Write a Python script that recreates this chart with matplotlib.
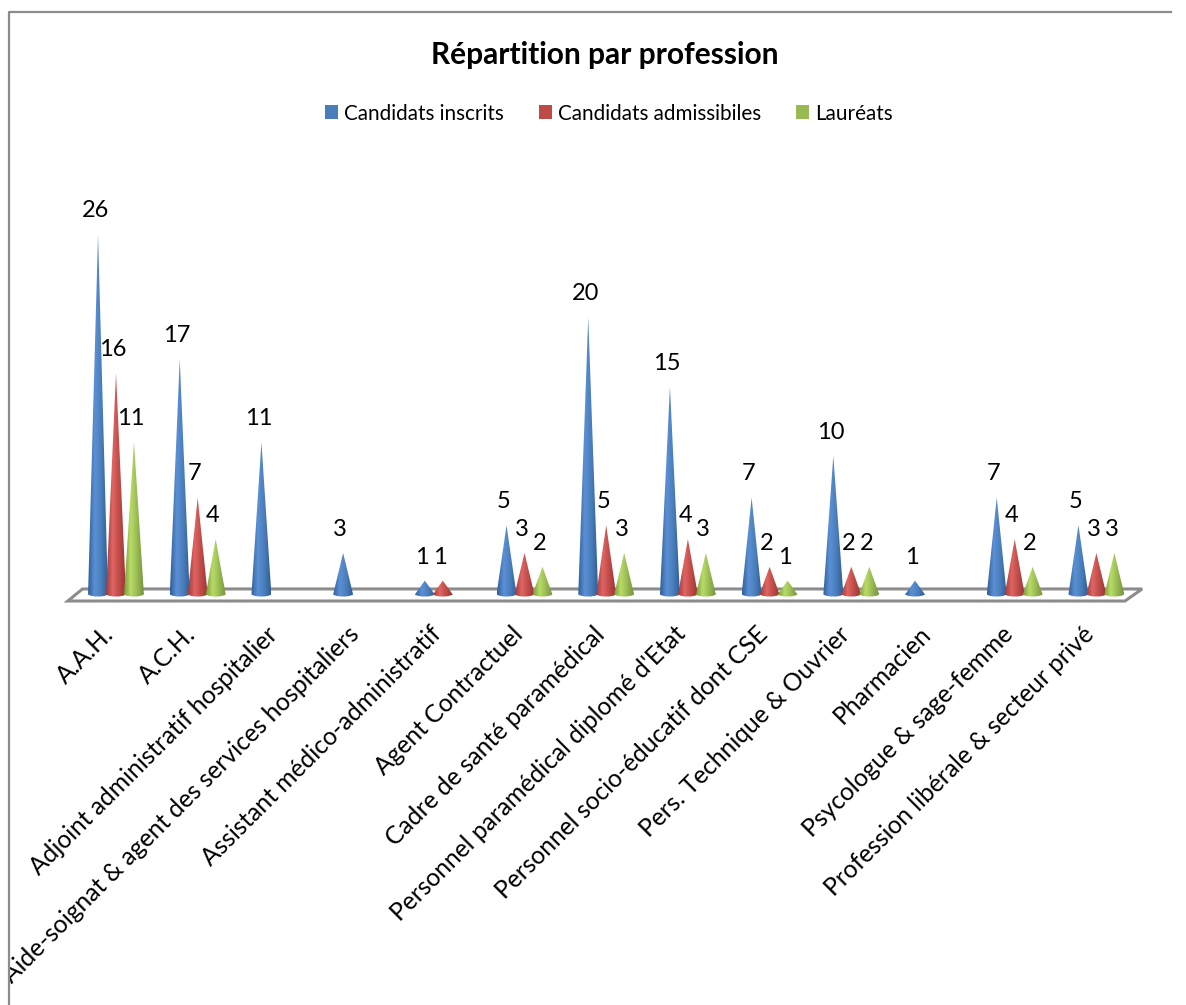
import matplotlib
matplotlib.use('Agg')
import matplotlib.pyplot as plt
import numpy as np
from matplotlib.colors import LinearSegmentedColormap
from matplotlib.patches import Patch, PathPatch, Polygon
from matplotlib.path import Path
from matplotlib.transforms import Bbox, TransformedBbox

categories = [
    "A.A.H.",
    "A.C.H.",
    "Adjoint administratif hospitalier",
    "Aide-soignat & agent des services hospitaliers",
    "Assistant médico-administratif",
    "Agent Contractuel",
    "Cadre de santé paramédical",
    "Personnel paramédical diplomé d'Etat",
    "Personnel socio-éducatif dont CSE",
    "Pers. Technique & Ouvrier",
    "Pharmacien",
    "Psycologue & sage-femme",
    "Profession libérale & secteur privé",
]
inscrits = [26, 17, 11, 3, 1, 5, 20, 15, 7, 10, 1, 7, 5]
admissibles = [16, 7, 0, 0, 1, 3, 5, 4, 2, 2, 0, 4, 3]
laureats = [11, 4, 0, 0, 0, 2, 3, 3, 1, 2, 0, 2, 3]

series_names = ["Candidats inscrits", "Candidats admissibiles", "Lauréats"]
series_values = [inscrits, admissibles, laureats]
legend_colors = ["#4a7ebb", "#be4b48", "#98b954"]
shades = [
    ["#2f5f98", "#5b90d6", "#4a7ebb", "#2f5f98"],
    ["#a03c3a", "#e06462", "#be4b48", "#983634"],
    ["#7c9a3c", "#b8dc66", "#98b954", "#76933c"],
]

W, H = 1186, 1005
plt.rcParams['font.family'] = ['Lato', 'DejaVu Sans']

fig = plt.figure(figsize=(W / 100, H / 100), dpi=100)

# axes placed so that one category = 81.7 px and one unit = 13.85 px
px_x, px_y = 81.7, 13.85
x0_px, y0_px = 116, 594.5
ax = fig.add_axes([0, 0, 1, 1])
ax.set_xlim(-x0_px / px_x, (W - x0_px) / px_x)
ax.set_ylim(-(H - y0_px) / px_y, y0_px / px_y)
ax.axis('off')

# floor of the 3D plot
floor = [(-0.59, -0.47), (12.35, -0.47), (12.56, 0.4), (-0.41, 0.4)]
ax.add_patch(Polygon(floor, closed=True, fc='white', ec='#8c8c8c', lw=2.2, zorder=1))

offsets = [-0.22, 0, 0.22]
half_w = 0.122
depth = 0.2

for vals, off, shade in zip(series_values, offsets, shades):
    cmap = LinearSegmentedColormap.from_list('c', shade)
    grad = np.linspace(0, 1, 64).reshape(1, -1)
    for i, v in enumerate(vals):
        if v == 0:
            continue
        x = i + off
        k = 0.55228
        verts = [(x - half_w, 0), (x, v), (x + half_w, 0),
                 (x + half_w * k, -depth), (x - half_w * k, -depth), (x - half_w, 0)]
        codes = [Path.MOVETO, Path.LINETO, Path.LINETO,
                 Path.CURVE4, Path.CURVE4, Path.CURVE4]
        clip = PathPatch(Path(verts, codes), fc='none', ec='none', transform=ax.transData)
        ax.add_patch(clip)
        im = ax.imshow(grad, cmap=cmap, aspect='auto', zorder=3 + i * 0.01,
                       extent=(x - half_w, x + half_w, -depth, v))
        im.set_clip_path(clip)
        ax.annotate(str(v), (x, v), xytext=(-2, 17), textcoords='offset points',
                    ha='center', va='center', fontsize=17, color='black', zorder=10)

ax.set_xlim(-x0_px / px_x, (W - x0_px) / px_x)
ax.set_ylim(-(H - y0_px) / px_y, y0_px / px_y)

# category labels, rotated and ending under each group; cut at the chart border
label_clip = TransformedBbox(Bbox([[9 / W, 0], [1, 1]]), fig.transFigure)
for i, name in enumerate(categories):
    lab = ax.annotate(name, (i, 0), xytext=(-10, -20), textcoords='offset points',
                      rotation=45, rotation_mode='anchor', ha='right', va='top',
                      fontsize=17.7, color='black', annotation_clip=False)
    lab.set_clip_box(label_clip)
    lab.set_clip_on(True)

fig.text(604.5 / W, 1 - 55 / H, "Répartition par profession", ha='center', va='center',
         fontsize=21.5, fontweight='bold', color='black')

handles = [Patch(fc=c, ec='none') for c in legend_colors]
fig.legend(handles, series_names, loc='center', bbox_to_anchor=(609 / W, 1 - 113.5 / H),
           ncol=3, frameon=False, fontsize=14.9, handlelength=0.63, handleheight=0.63,
           handletextpad=0.29, columnspacing=1.7)

# chart border
border_x = [9 / W, 9 / W, 1171 / W]
border_y = [0, 1 - 12 / H, 1 - 12 / H]
fig.add_artist(plt.Line2D(border_x, border_y, color='#8c8c8c', lw=1.6))

fig.savefig("out.png", dpi=100, facecolor='white')
